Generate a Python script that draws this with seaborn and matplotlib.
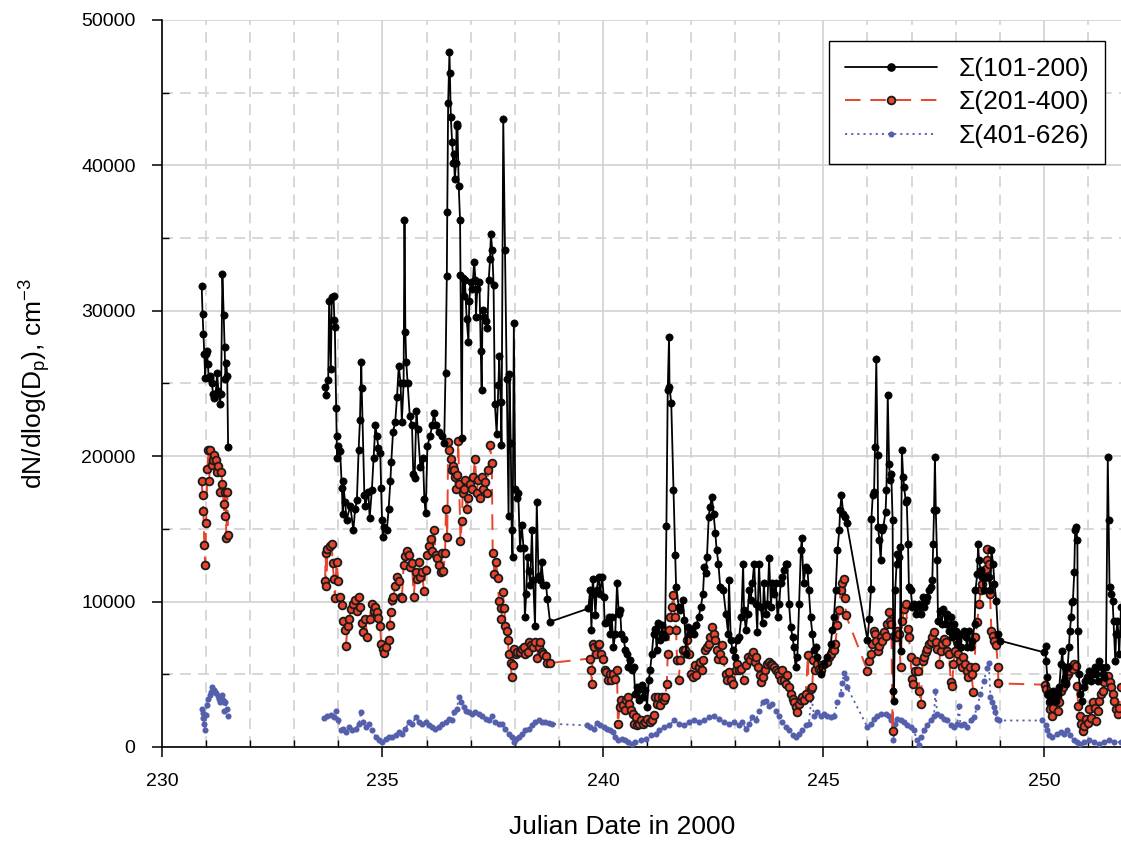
import numpy as np
import pandas as pd
import matplotlib
matplotlib.use("Agg")
import matplotlib.pyplot as plt
from matplotlib.lines import Line2D
from matplotlib.ticker import MultipleLocator, StrMethodFormatter
import seaborn as sns

NAN = np.nan

# ---------------- data ----------------
black_t = [230.90, 230.92, 230.94, 230.96, 230.98, 231.00, 231.02, 231.04, 231.06, 231.08, 231.10, 231.13, 231.16,
           231.19, 231.22, 231.25, 231.28, 231.31, 231.34, 231.37, 231.40, 231.42, 231.44, 231.46, 231.48, 231.50,
           232.5,
           233.70, 233.72, 233.77, 233.79, 233.83, 233.85, 233.89, 233.91, 233.92, 233.95, 233.96, 233.97, 234.00,
           234.04, 234.08, 234.10, 234.11, 234.15, 234.19, 234.27, 234.34, 234.38, 234.42, 234.46, 234.49, 234.52,
           234.53, 234.59, 234.61, 234.68, 234.71, 234.76, 234.80, 234.84, 234.87, 234.91, 234.95, 234.97, 234.99,
           235.01, 235.04, 235.10, 235.14, 235.18, 235.20, 235.24, 235.29, 235.33, 235.37, 235.41, 235.44, 235.48,
           235.50, 235.52, 235.54, 235.57, 235.62, 235.67, 235.70, 235.73, 235.77, 235.80, 235.86, 235.92, 235.95,
           235.98, 236.02, 236.08, 236.13, 236.17, 236.21, 236.28, 236.36, 236.40, 236.43, 236.46, 236.47, 236.49,
           236.52, 236.53, 236.55, 236.58, 236.61, 236.62, 236.64, 236.67, 236.68, 236.70, 236.73, 236.76, 236.77,
           236.80, 236.82, 236.85, 236.87, 236.91, 236.95, 236.97, 237.00, 237.04, 237.08, 237.11, 237.12, 237.15,
           237.20, 237.23, 237.25, 237.27, 237.30, 237.35, 237.38, 237.41, 237.44, 237.46, 237.49, 237.52, 237.55,
           237.59, 237.63, 237.65, 237.68, 237.70, 237.74, 237.78, 237.82, 237.86, 237.88, 237.91, 237.93, 237.95,
           237.98, 238.01, 238.05, 238.08, 238.12, 238.16, 238.20, 238.23, 238.26, 238.29, 238.32, 238.35, 238.39,
           238.42, 238.46, 238.50, 238.54, 238.58, 238.61, 238.65, 238.71, 238.74, 238.80,
           239.67, 239.71, 239.74, 239.77, 239.80, 239.83, 239.86, 239.90, 239.94, 239.98, 240.02, 240.04, 240.09,
           240.13, 240.17, 240.20, 240.24, 240.28, 240.32, 240.36, 240.39, 240.42, 240.47, 240.51, 240.54, 240.58,
           240.62, 240.66, 240.70, 240.73, 240.77, 240.81, 240.85, 240.88, 240.92, 240.96, 241.00, 241.04, 241.07,
           241.11, 241.15, 241.19, 241.22, 241.26, 241.30, 241.34, 241.37, 241.41, 241.44, 241.47, 241.50, 241.51,
           241.55, 241.60, 241.64, 241.66, 241.72, 241.75, 241.81, 241.85, 241.89, 241.92, 241.97, 242.02, 242.06,
           242.12, 242.17, 242.22, 242.27, 242.30, 242.33, 242.36, 242.40, 242.43, 242.47, 242.51, 242.55, 242.58,
           242.62, 242.66, 242.73, 242.79, 242.84, 242.86, 242.90, 242.94, 242.99, 243.03, 243.09, 243.14, 243.18,
           243.20, 243.24, 243.28, 243.32, 243.35, 243.39, 243.43, 243.47, 243.50, 243.54, 243.58, 243.62, 243.65,
           243.69, 243.73, 243.77, 243.81, 243.84, 243.88, 243.92, 243.96, 244.00, 244.03, 244.07, 244.11, 244.15,
           244.18, 244.22, 244.26, 244.30, 244.33, 244.37, 244.41, 244.45, 244.49, 244.51, 244.55, 244.60, 244.64,
           244.67, 244.71, 244.75, 244.79, 244.83, 244.86, 244.94, 245.02, 245.09, 245.17, 245.20, 245.24, 245.28,
           245.32, 245.36, 245.38, 245.41, 245.45, 245.49, 245.53,
           246.00, 246.04, 246.08, 246.09, 246.12, 246.15, 246.17, 246.20, 246.23, 246.24, 246.27, 246.30, 246.33,
           246.36, 246.41, 246.43, 246.46, 246.49, 246.51, 246.54, 246.57, 246.59, 246.60, 246.63, 246.66, 246.68,
           246.72, 246.74, 246.75, 246.78, 246.81, 246.83, 246.87, 246.89, 246.92, 246.94, 246.98, 247.02, 247.06,
           247.09, 247.13, 247.17, 247.21, 247.25, 247.28, 247.32, 247.36, 247.40, 247.43, 247.47, 247.49, 247.51,
           247.53, 247.55, 247.58, 247.60, 247.64, 247.68, 247.72, 247.77, 247.81, 247.85, 247.89, 247.92, 247.96,
           248.00, 248.04, 248.08, 248.11, 248.15, 248.19, 248.23, 248.26, 248.30, 248.34, 248.38, 248.43, 248.45,
           248.49, 248.51, 248.53, 248.57, 248.60, 248.64, 248.68, 248.72, 248.75, 248.79, 248.81, 248.85, 248.88,
           248.92, 248.96, 249.00,
           250.00, 250.04, 250.05, 250.08, 250.09, 250.13, 250.17, 250.20, 250.24, 250.28, 250.32, 250.35, 250.39,
           250.42, 250.45, 250.48, 250.51, 250.54, 250.57, 250.59, 250.62, 250.64, 250.66, 250.69, 250.71, 250.73,
           250.76, 250.77, 250.79, 250.83, 250.86, 250.91, 250.94, 250.99, 251.03, 251.07, 251.11, 251.15, 251.18,
           251.22, 251.26, 251.30, 251.34, 251.37, 251.41, 251.45, 251.47, 251.49, 251.52, 251.56, 251.58, 251.62,
           251.64, 251.67, 251.69, 251.71, 251.75]
black_v = [31700, 29800, 28400, 27000, 25400, 27000, 27200, 26300, 25400, 25500, 25400, 25000, 24300,
           24000, 24300, 25700, 24500, 23600, 24300, 32500, 29700, 27500, 25300, 26400, 25500, 20600,
           NAN,
           24780, 24180, 25260, 30670, 25980, 30910, 31030, 29350, 28870, 23330, 21410, 19840, 20680,
           20320, 17800, 15990, 18280, 16830, 15630, 16590, 14910, 16350, 16950, 20440, 22490, 26460,
           24660, 17310, 16590, 17560, 15750, 17680, 19840, 22130, 21410, 20560, 20200, 17800, 15630,
           14430, 15150, 14910, 16350, 18280, 19600, 21650, 22370, 24050, 26220, 25020, 22370, 25020,
           36210, 28510, 26460, 25020, 22730, 22130, 18760, 18520, 23090, 21890, 19240, 19840, 17070,
           16110, 20680, 21410, 22130, 22970, 22130, 21650, 21410, 20920, 25700, 32400, 36800, 44260,
           47820, 46310, 43310, 41580, 40160, 40790, 39050, 40160, 42680, 42840, 38580, 36210, 32430,
           21230, 32270, 31010, 32110, 29430, 27850, 30690, 31960, 31480, 33380, 32110, 29590, 31480,
           31960, 27220, 24540, 30060, 29590, 29270, 28800, 32110, 33530, 35270, 34160, 31800, 23600,
           21550, 24860, 26910, 23750, 20760, 43150, 34160, 25330, 15870, 25650, 20910, 14920, 13030,
           29120, 17760, 17130, 17440, 13660, 15240, 13660, 8930, 10500, 13030, 12090, 11140, 14920,
           11450, 8300, 16810, 11770, 11450, 12720, 11140, 11140, 10190, 8610,
           9520, 10780, 8030, 11580, 10550, 9060, 10780, 11700, 10550, 11700, 10320, 8490, 8600,
           8940, 7800, 8940, 6880, 7800, 11240, 9170, 9400, 7800, 7450, 6650, 6420, 5500,
           5960, 5270, 5500, 3670, 4130, 3210, 4010, 4240, 3440, 3900, 2750, 4590, 5270,
           6420, 7800, 8140, 6650, 8490, 7340, 8370, 7800, 7570, 15160, 24540, 28210, 24770,
           23620, 17660, 13190, 11010, 9630, 9400, 10090, 8720, 6420, 8260, 7800, 8140, 7800,
           8370, 8940, 9630, 10550, 12390, 11930, 13070, 15830, 16510, 17200, 16050, 14680, 13530,
           12610, 11010, 10780, 9170, 7800, 11470, 7340, 6650, 6190, 7340, 7570, 8940, 12610,
           9400, 8030, 9170, 10780, 10090, 11240, 12610, 9860, 7910, 12610, 9630, 8490, 11240,
           9170, 9860, 12960, 9630, 11240, 10550, 11240, 8940, 9860, 11240, 11700, 12160, 12610,
           12610, 9860, 8260, 7570, 6880, 5500, 6190, 9860, 13530, 14340, 11240, 12380, 12160,
           10780, 8940, 7800, 6650, 6880, 6190, 5050, 5730, 6190, 7110, 8030, 8940, 10780,
           13530, 14910, 16280, 17320, 16050, 15830, 15370,
           7360, 8800, 10870, 15700, 17310, 17540, 20640, 26670, 20070, 15130, 14210, 12830, 14900,
           15130, 16160, 17660, 24210, 19490, 18340, 18800, 15590, 3860, 3170, 10760, 12600, 13290,
           13060, 13750, 6620, 20410, 18570, 17890, 16850, 16970, 13980, 10990, 10760, 9610, 9840,
           9150, 9610, 9840, 9150, 10300, 9610, 10070, 10300, 10760, 10990, 11450, 13980, 16280,
           19950, 16280, 12830, 8690, 9380, 8460, 9490, 8460, 9150, 8000, 8920, 7540, 8460,
           8000, 7080, 7770, 6850, 7770, 8000, 7540, 6850, 8000, 6850, 7310, 8460, 10760,
           11910, 13980, 12830, 12140, 11680, 10760, 11680, 11680, 11680, 10760, 13520, 12600, 11220,
           10070, 7770, 7310,
           6510, 6970, 5930, 4780, 3630, 3170, 3400, 3860, 3630, 3170, 3630, 4090, 5700,
           6620, 4550, 5470, 4320, 5470, 6850, 8000, 8920, 9950, 10070, 12030, 14900, 15130,
           14210, 8000, 5010, 3630, 3170, 4090, 4550, 4780, 5240, 4550, 5010, 5470, 5010,
           4550, 5930, 5470, 5010, 4780, 5470, 19950, 15590, 10990, 10530, 10070, 8690, 5930,
           7770, 8690, 7770, 6390, 9610]

red_t = [230.90, 230.92, 230.94, 230.96, 230.98, 231.00, 231.03, 231.05, 231.07, 231.10, 231.13, 231.16, 231.19,
         231.22, 231.25, 231.28, 231.31, 231.34, 231.37, 231.40, 231.42, 231.44, 231.46, 231.48, 231.50,
         232.5,
         233.70, 233.71, 233.73, 233.75, 233.81, 233.85, 233.87, 233.90, 233.92, 233.96, 234.00, 234.04, 234.08,
         234.11, 234.15, 234.17, 234.21, 234.25, 234.28, 234.33, 234.38, 234.42, 234.46, 234.49, 234.53, 234.57,
         234.61, 234.66, 234.71, 234.76, 234.80, 234.84, 234.87, 234.91, 234.95, 234.97, 235.01, 235.04, 235.09,
         235.14, 235.16, 235.19, 235.22, 235.25, 235.29, 235.33, 235.37, 235.41, 235.44, 235.48, 235.52, 235.56,
         235.60, 235.63, 235.67, 235.71, 235.75, 235.79, 235.83, 235.86, 235.90, 235.94, 235.98, 236.02, 236.05,
         236.09, 236.13, 236.17, 236.21, 236.24, 236.28, 236.32, 236.36, 236.38, 236.42, 236.44, 236.47, 236.49,
         236.52, 236.55, 236.57, 236.59, 236.62, 236.64, 236.67, 236.70, 236.72, 236.74, 236.77, 236.80, 236.82,
         236.85, 236.87, 236.91, 236.95, 236.98, 237.02, 237.06, 237.10, 237.14, 237.17, 237.21, 237.25, 237.29,
         237.33, 237.36, 237.40, 237.44, 237.48, 237.50, 237.54, 237.58, 237.61, 237.64, 237.68, 237.70, 237.73,
         237.76, 237.79, 237.82, 237.84, 237.87, 237.91, 237.93, 237.95, 237.98, 238.02, 238.06, 238.11, 238.16,
         238.20, 238.23, 238.29, 238.33, 238.36, 238.41, 238.46, 238.50, 238.54, 238.58, 238.61, 238.65, 238.71,
         238.74, 238.80,
         239.70, 239.73, 239.75, 239.77, 239.80, 239.85, 239.88, 239.92, 239.95, 240.00, 240.04, 240.08, 240.11,
         240.15, 240.19, 240.23, 240.28, 240.32, 240.34, 240.38, 240.41, 240.45, 240.49, 240.53, 240.56, 240.60,
         240.63, 240.68, 240.71, 240.74, 240.77, 240.82, 240.86, 240.91, 240.96, 241.01, 241.06, 241.11, 241.15,
         241.19, 241.22, 241.26, 241.30, 241.34, 241.38, 241.41, 241.45, 241.47, 241.51, 241.53, 241.56, 241.60,
         241.63, 241.66, 241.68, 241.72, 241.75, 241.81, 241.87, 241.90, 241.96, 242.00, 242.04, 242.08, 242.12,
         242.17, 242.21, 242.25, 242.28, 242.32, 242.36, 242.40, 242.43, 242.47, 242.51, 242.55, 242.59, 242.62,
         242.66, 242.70, 242.73, 242.79, 242.82, 242.86, 242.90, 242.96, 243.01, 243.05, 243.09, 243.14, 243.20,
         243.24, 243.28, 243.34, 243.37, 243.41, 243.44, 243.48, 243.52, 243.56, 243.59, 243.64, 243.68, 243.72,
         243.77, 243.81, 243.84, 243.88, 243.92, 243.96, 243.99, 244.03, 244.07, 244.11, 244.15, 244.18, 244.22,
         244.26, 244.30, 244.33, 244.37, 244.41, 244.45, 244.49, 244.52, 244.56, 244.60, 244.65, 244.67, 244.71,
         244.75, 244.77, 244.80, 244.85, 244.90, 244.95, 245.02, 245.08, 245.13, 245.18, 245.23, 245.27, 245.32,
         245.36, 245.39, 245.43, 245.47, 245.50, 245.51,
         246.00, 246.04, 246.08, 246.10, 246.14, 246.17, 246.20, 246.23, 246.26, 246.30, 246.34, 246.38, 246.42,
         246.45, 246.49, 246.51, 246.54, 246.57, 246.60, 246.64, 246.68, 246.72, 246.75, 246.79, 246.83, 246.87,
         246.91, 246.94, 246.98, 247.00, 247.03, 247.07, 247.11, 247.15, 247.18, 247.21, 247.25, 247.28, 247.32,
         247.36, 247.40, 247.43, 247.47, 247.51, 247.55, 247.58, 247.62, 247.66, 247.70, 247.74, 247.77, 247.81,
         247.85, 247.89, 247.92, 247.95, 247.98, 248.02, 248.06, 248.10, 248.14, 248.17, 248.21, 248.25, 248.28,
         248.32, 248.36, 248.40, 248.43, 248.45, 248.49, 248.53, 248.57, 248.60, 248.64, 248.68, 248.70, 248.72,
         248.75, 248.78, 248.81, 248.84, 248.87, 248.92, 248.96, 248.97,
         250.02, 250.05, 250.09, 250.13, 250.15, 250.18, 250.21, 250.26, 250.29, 250.32, 250.35, 250.39, 250.43,
         250.47, 250.51, 250.54, 250.58, 250.62, 250.66, 250.69, 250.73, 250.75, 250.78, 250.81, 250.85, 250.88,
         250.92, 250.96, 251.00, 251.03, 251.07, 251.11, 251.15, 251.18, 251.22, 251.26, 251.30, 251.34, 251.37,
         251.41, 251.45, 251.49, 251.52, 251.56, 251.60, 251.64, 251.68, 251.71, 251.75]
red_v = [18300, 17300, 16200, 13900, 12500, 15400, 19100, 20400, 18300, 20400, 19400, 19700, 20100,
         19700, 18900, 19300, 17500, 18900, 18100, 16700, 15900, 17500, 14400, 17500, 14600,
         NAN,
         11420, 13340, 11060, 13580, 13820, 13940, 12620, 11540, 10210, 12740, 11420, 10330, 9730,
         8650, 8050, 6960, 8290, 8770, 9490, 9850, 10090, 9370, 10330, 9610, 8530, 7930,
         8770, 7570, 8770, 9850, 9370, 9610, 9250, 8890, 8290, 7090, 6720, 6480, 6840,
         7330, 8410, 9250, 10090, 10330, 11060, 11660, 11420, 10330, 10210, 12500, 13100, 13460,
         13220, 12380, 12620, 10330, 12020, 11540, 12740, 11660, 12020, 10700, 12140, 13220, 13820,
         14310, 13460, 14910, 13220, 12980, 12500, 12020, 13340, 12080, 13340, 16340, 14450, 21000,
         20440, 19810, 19020, 19340, 19020, 18550, 17760, 18710, 21070, 18080, 14130, 15550, 17450,
         17760, 18390, 16340, 17130, 18080, 17760, 18550, 19810, 17450, 18390, 17130, 18550, 17760,
         18230, 17450, 19020, 20760, 19500, 13340, 11920, 12710, 11610, 10030, 9560, 8770, 10660,
         9560, 8300, 7980, 7350, 6400, 5770, 4830, 5610, 6720, 6400, 6560, 6560, 6720,
         6880, 6400, 6560, 7190, 7030, 6880, 7190, 6090, 6880, 7190, 6560, 6400, 6250,
         5770, 5770,
         6080, 5270, 4360, 7110, 6880, 6420, 7000, 7110, 6420, 6080, 5270, 5160, 4590,
         5050, 4590, 5050, 4700, 5270, 1610, 2750, 3210, 2870, 2520, 3210, 3440, 2980,
         2520, 2290, 1610, 2060, 1490, 1610, 1840, 1610, 1720, 1950, 1720, 1840, 2180,
         3440, 2980, 3440, 2870, 3440, 3210, 3440, 4360, 6420, 8030, 8940, 9630, 10440,
         8940, 8030, 5960, 4590, 5960, 6650, 6650, 7340, 6420, 5050, 4820, 5620, 4930,
         5500, 5850, 5270, 5960, 6650, 6880, 7110, 7570, 8260, 7800, 7340, 6650, 6080,
         6420, 7000, 5960, 5050, 4590, 5160, 4590, 4360, 5270, 5730, 5270, 5390, 4590,
         5620, 6190, 5960, 6310, 6540, 5850, 6190, 5500, 4930, 4470, 4820, 5270, 5730,
         5850, 5730, 5620, 5500, 5270, 5160, 4930, 4590, 5270, 4590, 4360, 4930, 4130,
         3670, 3330, 3100, 2750, 2410, 2980, 3210, 3440, 3210, 3670, 6310, 3440, 4010,
         4130, 5960, 5270, 5730, 5390, 5270, 5730, 5850, 6190, 6420, 6650, 7110, 8370,
         9400, 10780, 11240, 11580, 10210, 9060,
         5240, 5930, 6390, 7080, 8000, 7770, 7310, 6620, 6970, 7540, 7310, 7890, 7660,
         8460, 9260, 8690, 8460, 1100, 7660, 7540, 8000, 7770, 5470, 8690, 9490, 9840,
         8110, 7540, 6160, 4670, 4320, 5240, 5930, 5240, 3860, 2940, 5930, 6160, 6510,
         6740, 7080, 7200, 7540, 7890, 7200, 6740, 5700, 6620, 7080, 7430, 7200, 6620,
         6390, 4440, 4210, 5700, 6620, 7310, 6390, 5930, 5470, 6160, 5700, 5240, 4780,
         5470, 5010, 3750, 5470, 7540, 8570, 9840, 10760, 11220, 11680, 12250, 12830, 13630,
         12600, 10530, 8000, 7660, 7310, 7000, 5470, 4370,
         4280, 3980, 3630, 3060, 2600, 2140, 2710, 3170, 3400, 2480, 3060, 3860, 4090,
         4440, 4780, 5010, 5240, 5470, 5360, 5700, 5590, 4210, 2830, 2140, 1560, 1100,
         1450, 1910, 1680, 2600, 2020, 3060, 2710, 1790, 2480, 3170, 3630, 3860, 4440,
         4780, 4900, 4440, 4090, 3630, 3170, 2600, 2250, 2710, 4090]

blue_t = [230.90, 230.92, 230.94, 230.96, 230.98, 231.00, 231.02, 231.05, 231.08, 231.11, 231.14, 231.17, 231.20,
          231.23, 231.26, 231.29, 231.32, 231.35, 231.38, 231.41, 231.44, 231.47, 231.50,
          232.5,
          233.68, 233.75, 233.83, 233.90, 233.95, 234.00, 234.05, 234.11, 234.17, 234.24, 234.32, 234.39, 234.47,
          234.51, 234.56, 234.62, 234.69, 234.77, 234.85, 234.92, 235.00, 235.07, 235.15, 235.22, 235.30, 235.37,
          235.45, 235.52, 235.60, 235.68, 235.75, 235.83, 235.90, 235.98, 236.05, 236.13, 236.20, 236.28, 236.35,
          236.43, 236.51, 236.58, 236.62, 236.69, 236.73, 236.79, 236.85, 236.90, 236.96, 237.03, 237.11, 237.18,
          237.26, 237.34, 237.41, 237.49, 237.56, 237.64, 237.72, 237.79, 237.86, 237.94, 237.98, 238.02, 238.09,
          238.17, 238.24, 238.32, 238.39, 238.47, 238.54, 238.62, 238.69, 238.77, 238.84,
          239.64, 239.71, 239.79, 239.86, 239.94, 240.02, 240.09, 240.17, 240.24, 240.28, 240.35, 240.43, 240.51,
          240.58, 240.66, 240.73, 240.86, 240.97, 241.09, 241.20, 241.27, 241.39, 241.50, 241.62, 241.73, 241.84,
          241.96, 242.07, 242.18, 242.30, 242.41, 242.52, 242.64, 242.75, 242.86, 242.98, 243.09, 243.16, 243.24,
          243.32, 243.39, 243.47, 243.54, 243.62, 243.69, 243.77, 243.84, 243.92, 243.99, 244.07, 244.15, 244.22,
          244.30, 244.37, 244.45, 244.52, 244.60, 244.67, 244.73, 244.79, 244.86, 244.94, 245.02, 245.09, 245.17,
          245.24, 245.32, 245.39, 245.43, 245.47, 245.51, 245.54,
          246.00, 246.07, 246.15, 246.22, 246.30, 246.41, 246.49, 246.54, 246.57, 246.59, 246.62, 246.68, 246.75,
          246.83, 246.90, 246.98, 247.05, 247.13, 247.17, 247.21, 247.28, 247.36, 247.43, 247.51, 247.54, 247.58,
          247.66, 247.73, 247.81, 247.89, 247.96, 248.04, 248.07, 248.11, 248.19, 248.26, 248.34, 248.41, 248.49,
          248.56, 248.64, 248.72, 248.75, 248.79, 248.83, 248.87, 248.90, 248.94, 248.98,
          249.96, 250.04, 250.08, 250.11, 250.19, 250.30, 250.38, 250.45, 250.53, 250.60, 250.68, 250.76, 250.83,
          250.91, 251.02, 251.13, 251.25, 251.36, 251.47, 251.59, 251.74]
blue_v = [2600, 2300, 2000, 1600, 1150, 2200, 2900, 3300, 3600, 3800, 4100, 3900, 3800,
          3700, 3500, 3300, 3100, 3600, 3200, 2500, 3100, 2600, 2100,
          NAN,
          2000, 2160, 2230, 2050, 2500, 1820, 1140, 1250, 1020, 1360, 1140, 1250, 1590,
          2390, 1700, 1360, 1590, 1140, 680, 450, 340, 570, 680, 680, 800, 1020,
          910, 1250, 1700, 1590, 2050, 1700, 1590, 1700, 1480, 1360, 1250, 1360, 1590,
          1700, 1930, 1820, 2390, 2610, 3410, 3070, 2730, 2500, 2390, 2270, 2390, 2270,
          2160, 1930, 1820, 2160, 1700, 1590, 1590, 1250, 910, 680, 340, 570, 680,
          910, 1140, 1250, 1480, 1700, 1820, 1700, 1700, 1640, 1590,
          1480, 1360, 1250, 1640, 1480, 1360, 1250, 1140, 1020, 680, 450, 570, 450,
          340, 230, 340, 450, 570, 800, 910, 1140, 1360, 1480, 1820, 1590, 1480,
          1700, 1820, 1700, 1820, 2050, 2160, 1930, 1700, 1590, 1700, 1480, 1700, 1250,
          1590, 2050, 1820, 2500, 3070, 3180, 2840, 2950, 2500, 2160, 1700, 1360, 1140,
          800, 680, 910, 1140, 1480, 1590, 3410, 2160, 2390, 2160, 2270, 2160, 2050,
          2160, 3070, 3640, 4430, 5110, 4770, 4090,
          1360, 1590, 1930, 2160, 2270, 2270, 2160, 1820, 1140, 450, 1590, 1930, 1820,
          1700, 1480, 1360, 1140, 450, 110, 680, 1140, 1480, 1820, 2160, 3860, 2270,
          2160, 1930, 1820, 1480, 1360, 1590, 2840, 1480, 1590, 1360, 1820, 2050, 2730,
          3640, 4550, 5450, 5800, 3410, 3070, 2730, 2390, 1930, 1820,
          1820, 1480, 1140, 800, 680, 910, 1020, 910, 1140, 800, 450, 340, 230,
          340, 450, 340, 230, 340, 450, 340, 340]

# ---------------- style ----------------
BLACK = "#000000"
RED = "#E8432B"
BLUE = "#5560AD"
GRID = "#D4D4D4"

sns.set_theme(style="white")
plt.rcParams["font.family"] = ["Liberation Sans", "DejaVu Sans"]
plt.rcParams["mathtext.fontset"] = "custom"
plt.rcParams["mathtext.rm"] = "Liberation Sans"
plt.rcParams["mathtext.it"] = "Liberation Sans"
for key in ["text.color", "axes.labelcolor", "xtick.color", "ytick.color"]:
    plt.rcParams[key] = "black"


def frame(t, v):
    t = np.asarray(t, float)
    v = np.asarray(v, float)
    seg = np.cumsum(np.isnan(v))
    df = pd.DataFrame({"t": t, "v": v, "seg": seg})
    return df.dropna()


fig = plt.figure(figsize=(11.21, 8.44), dpi=100)
ax = fig.add_axes([0.1445, 0.1150, 0.8555, 0.8615])

sns.lineplot(data=frame(blue_t, blue_v), x="t", y="v", units="seg", estimator=None, ax=ax,
             color=BLUE, linewidth=1.3, linestyle=(0, (1.2, 2.2)), marker="o", markersize=4.4,
             markerfacecolor=BLUE, markeredgecolor=BLUE, markeredgewidth=0, zorder=3)
sns.lineplot(data=frame(red_t, red_v), x="t", y="v", units="seg", estimator=None, ax=ax,
             color=RED, linewidth=1.4, linestyle=(0, (8, 5)), marker="o", markersize=5.6,
             markerfacecolor=RED, markeredgecolor="#1a1a1a", markeredgewidth=1.3, zorder=4)
sns.lineplot(data=frame(black_t, black_v), x="t", y="v", units="seg", estimator=None, ax=ax,
             color=BLACK, linewidth=1.3, marker="o", markersize=5.2,
             markerfacecolor=BLACK, markeredgecolor=BLACK, markeredgewidth=0.5, zorder=5)

ax.set_xlim(230, 251.75)
ax.set_ylim(0, 50000)
ax.xaxis.set_major_locator(MultipleLocator(5))
ax.xaxis.set_minor_locator(MultipleLocator(1))
ax.yaxis.set_major_locator(MultipleLocator(10000))
ax.yaxis.set_minor_locator(MultipleLocator(5000))
ax.yaxis.set_major_formatter(StrMethodFormatter("{x:.0f}"))

ax.grid(which="major", color=GRID, linewidth=1.3, linestyle="-", zorder=0)
ax.grid(which="minor", color=GRID, linewidth=1.3, linestyle=(0, (6, 4)), zorder=0)
ax.set_axisbelow(True)

for s in ["top", "right"]:
    ax.spines[s].set_visible(False)
for s in ["left", "bottom"]:
    ax.spines[s].set_color("black")
    ax.spines[s].set_linewidth(1.2)

ax.tick_params(which="major", direction="out", length=7, width=1.1, color="black",
               labelsize=14, labelcolor="black", pad=12, left=True, bottom=True)
ax.tick_params(which="minor", direction="in", length=5, width=1.0, color="black",
               left=True, bottom=True)

ax.set_xlabel("Julian Date in 2000", fontsize=19, labelpad=18)
ax.xaxis.label.set_x(0.48)
ax.set_ylabel(r"dN/dlog(D$_\mathregular{p}$), cm$^\mathregular{-3}$", fontsize=19, labelpad=20)

handles = [
    Line2D([], [], color=BLACK, linewidth=1.3, marker="o", markersize=5.2,
           markerfacecolor=BLACK, markeredgecolor=BLACK),
    Line2D([], [], color=RED, linewidth=1.4, linestyle=(0, (8, 5)), marker="o", markersize=5.6,
           markerfacecolor=RED, markeredgecolor="#1a1a1a", markeredgewidth=1.3),
    Line2D([], [], color=BLUE, linewidth=1.3, linestyle=(0, (1.2, 2.2)), marker="o", markersize=4.4,
           markerfacecolor=BLUE, markeredgecolor=BLUE, markeredgewidth=0),
]
labels = ["\u03a3(101-200)", "\u03a3(201-400)", "\u03a3(401-626)"]
leg = ax.legend(handles, labels, loc="upper right", bbox_to_anchor=(0.983, 0.971), borderaxespad=0,
                fontsize=19, handlelength=3.5, handletextpad=0.8, labelspacing=0.36, borderpad=0.6,
                numpoints=1, frameon=True, fancybox=False, shadow=False, framealpha=1)
leg.get_frame().set_edgecolor("black")
leg.get_frame().set_linewidth(1.0)

fig.savefig("out.png", dpi=100)
